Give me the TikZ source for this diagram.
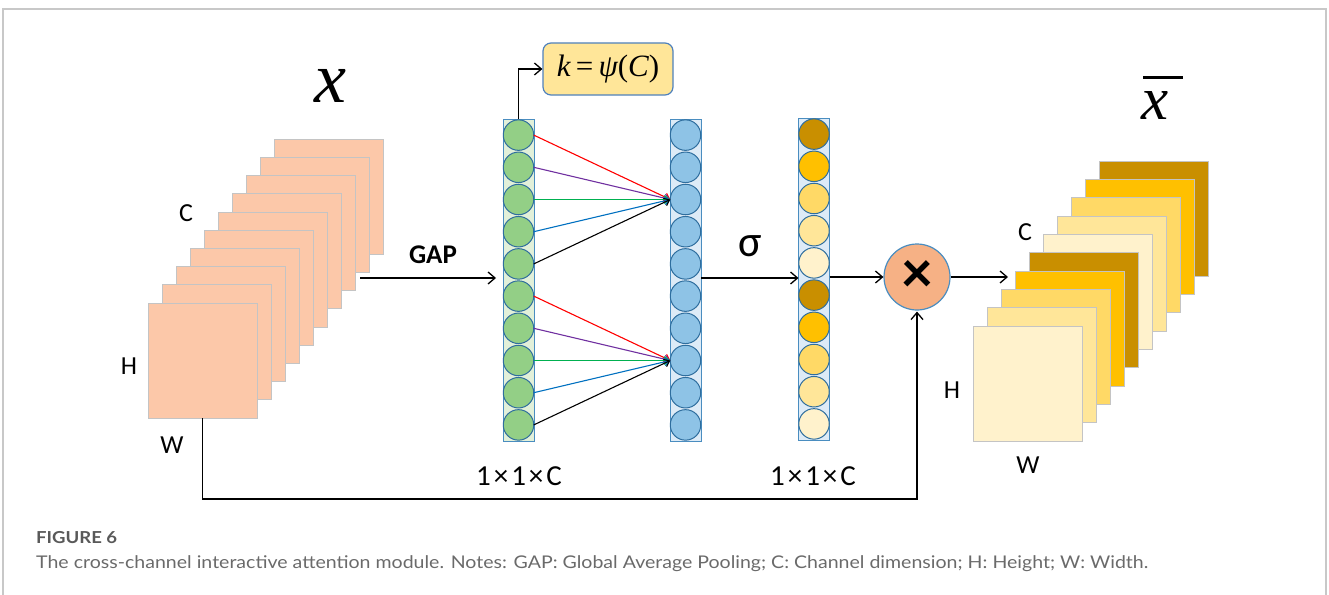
\documentclass[tikz,border=0pt]{standalone}
\usepackage{fontspec}
\setmainfont{Carlito}
\newfontfamily\serifit{Liberation Serif}
\newfontfamily\capfont{Lato}
\usetikzlibrary{arrows.meta,calc}
\definecolor{peach}{HTML}{FCC8A9}
\definecolor{sqborder}{HTML}{C4C4C4}
\definecolor{yA}{HTML}{FFF2CC}
\definecolor{yB}{HTML}{FFE699}
\definecolor{yC}{HTML}{FFD966}
\definecolor{yD}{HTML}{FFC000}
\definecolor{yE}{HTML}{C98F00}
\definecolor{colbgG}{HTML}{E2F0D9}
\definecolor{colbgB}{HTML}{DDEBF7}
\definecolor{colborder}{HTML}{4A8DC0}
\definecolor{circG}{HTML}{93CF86}
\definecolor{circB}{HTML}{8EC3E6}
\definecolor{circborder}{HTML}{2F6E9E}
\definecolor{kfill}{HTML}{FFE699}
\definecolor{kborder}{HTML}{4F81BD}
\definecolor{mulfill}{HTML}{F6B185}
\definecolor{framec}{HTML}{C8C8C8}
\definecolor{capgray}{HTML}{6A6A6A}
\definecolor{figgray}{HTML}{595959}
\definecolor{lpurple}{HTML}{7030A0}
\definecolor{lgreen}{HTML}{00B050}
\definecolor{lblue}{HTML}{0070C0}
\begin{document}
\begin{tikzpicture}[x=1pt,y=-1pt,
  sqbase/.style={draw=sqborder, line width=1pt, minimum width=109pt, minimum height=115pt, inner sep=0pt, outer sep=0pt, anchor=north west},
  sqL/.style={sqbase, fill=peach},
  column/.style={draw=colborder, line width=1pt, minimum width=31pt, minimum height=322pt, inner sep=0pt, outer sep=0pt},
  cell/.style={circle, draw=circborder, line width=1pt, minimum size=30.5pt, inner sep=0pt, outer sep=0pt},
  arr/.style={line width=1.3pt, -{Straight Barb[length=7pt,width=12pt,line width=1.3pt]}},
  thinarr/.style={line width=1.1pt, -{Straight Barb[length=5pt,width=8pt,line width=1.1pt]}},
  lbl/.style={font=\fontsize{26}{26}\selectfont, inner sep=0pt},
  dimlbl/.style={font=\fontsize{29}{29}\selectfont, inner sep=0pt},
]
\useasboundingbox (0,0) rectangle (1329,594);
% frame
\draw[framec, line width=1.3pt] (3,600) -- (3,9) -- (1326,9) -- (1326,600);

% left stack
\foreach \i in {9,8,...,0} {
  \node[sqL] (L\i) at ({148+14.1*\i},{303-18.2*\i}) {};
}
% right stack
\foreach \i/\c in {9/yE,8/yD,7/yC,6/yB,5/yA,4/yE,3/yD,2/yC,1/yB,0/yA} {
  \node[sqbase, fill=\c] (R\i) at ({973+14*\i},{326-18.3*\i}) {};
}

% columns
\node[column, fill=colbgG] (G) at (518.5,280) {};
\node[column, fill=colbgB] (B) at (685.5,280) {};
\node[column, fill=colbgB] (S) at (814,279) {};
\foreach \i in {0,...,9} {
  \node[cell, fill=circG] (g\i) at (518.5,{135.1+32.2*\i}) {};
  \node[cell, fill=circB] (b\i) at (685.5,{135.1+32.2*\i}) {};
}
\foreach \i/\c in {0/yE,1/yD,2/yC,3/yB,4/yA,5/yE,6/yD,7/yC,8/yB,9/yA} {
  \node[cell, fill=\c] (s\i) at (814,{134.1+32.2*\i}) {};
}

% local cross-channel connections
\foreach \i/\c in {0/red,1/lpurple,2/lgreen,3/lblue,4/black} {
  \draw[thinarr, \c] (g\i.east) -- (b2.west);
}
\foreach \i/\c in {5/red,6/lpurple,7/lgreen,8/lblue,9/black} {
  \draw[thinarr, \c] (g\i.east) -- (b7.west);
}

% k box
\node[draw=kborder, fill=kfill, line width=1.2pt, rounded corners=8pt, minimum width=130pt, minimum height=52pt, inner sep=0pt] (K) at (608,69)
  {\serifit\fontsize{31}{31}\selectfont\itshape k\,\upshape=\,\itshape ψ\upshape(\itshape C\upshape)};
\draw[arr] (G.north) |- (K.west);

% multiply
\node[circle, draw=colborder, fill=mulfill, line width=1.2pt, minimum size=66pt, inner sep=0pt] (M) at (917,277) {\bfseries\fontsize{60}{60}\selectfont ×};

% main flow
\coordinate (gapstart) at (360,278);
\draw[arr, shorten >=7pt] (gapstart) -- (gapstart -| G.west);
\draw[arr] (B.east |- gapstart) -- (S.west |- gapstart);
\draw[arr] (S.east |- M.west) -- (M.west);
\draw[arr, shorten >=7pt] (M.east) -- (M.east -| R3.west);
\draw[arr, shorten >=1pt] (L0.south) -- ++(0,81) -| (M.south);

% labels
\node[font=\bfseries\fontsize{27}{27}\selectfont, inner sep=0pt] (gap) at (433,255) {GAP};
\node[font=\fontsize{44}{44}\selectfont, inner sep=0pt] (sig) at (750,246) {σ};
\node[lbl] (lC) at (186,213) {C};
\node[lbl] (lH) at (129,366) {H};
\node[lbl] (lW) at (172,445) {W};
\node[lbl] (rC) at (1025,232) {C};
\node[lbl] (rH) at (952,390) {H};
\node[lbl] (rW) at (1028,465) {W};
\node[dimlbl] (d1) at (519,476) {1\kern3pt×\kern3pt1\kern3pt×\kern3pt C};
\node[dimlbl] (d2) at (813,476) {1\kern3pt×\kern3pt1\kern3pt×\kern3pt C};
\node[inner sep=0pt] (xin) at (330,86) {\serifit\itshape\fontsize{72}{72}\selectfont x};
\node[inner sep=0pt, anchor=base west] (xout) at (1141,119) {\serifit\itshape\fontsize{61}{61}\selectfont\rlap{\kern2pt\raisebox{40.5pt}{\rule{40pt}{2.5pt}}}x};

% caption
\node[anchor=base west, inner sep=0pt, text=figgray] (fig) at (36,543) {\resizebox{81pt}{\height}{\capfont\bfseries\fontsize{16.5}{16.5}\selectfont FIGURE 6}};
\node[anchor=base west, inner sep=0pt, text=capgray] (cap) at (36,568) {\resizebox{1112pt}{\height}{\capfont\fontsize{17.5}{17.5}\selectfont The cross-channel interactive attention module. Notes: GAP: Global Average Pooling; C: Channel dimension; H: Height; W: Width.}};
\end{tikzpicture}
\end{document}
